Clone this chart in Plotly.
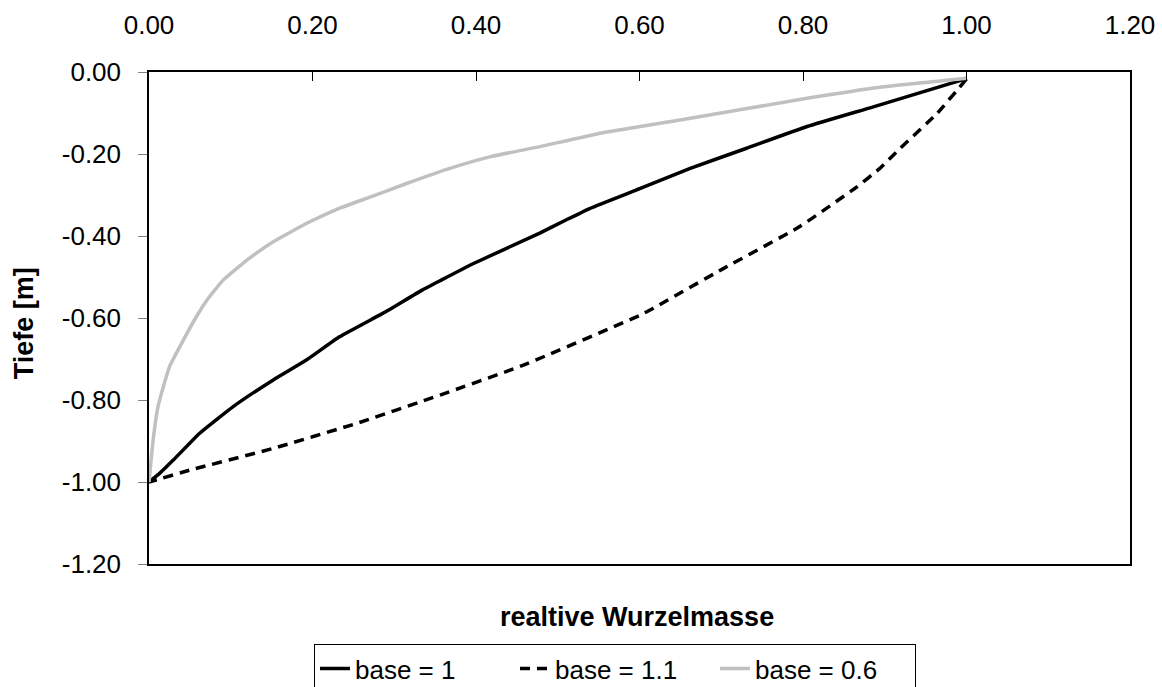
import plotly.graph_objects as go

# base = 1 (solid black)
depth_b1 = [-0.016, -0.085, -0.133, -0.186, -0.235, -0.284, -0.333, -0.361, -0.393, -0.467, -0.507,
            -0.532, -0.576, -0.593, -0.646, -0.702, -0.751, -0.816, -0.881, -0.946, -0.979, -1.0]
mass_b1 = [1.0, 0.886, 0.805, 0.731, 0.662, 0.601, 0.539, 0.510, 0.478, 0.397, 0.358,
           0.334, 0.297, 0.282, 0.233, 0.193, 0.152, 0.103, 0.062, 0.030, 0.013, 0.0]

# base = 1.1 (dashed black)
depth_b11 = [-0.017, -0.101, -0.186, -0.235, -0.280, -0.377, -0.479, -0.576, -0.593, -0.715,
             -0.788, -0.857, -0.918, -0.971, -1.0]
mass_b11 = [1.0, 0.964, 0.919, 0.894, 0.866, 0.796, 0.703, 0.617, 0.601, 0.458,
            0.356, 0.254, 0.152, 0.050, 0.0]

# base = 0.6 (grey)
depth_b06 = [-0.015, -0.037, -0.064, -0.113, -0.151, -0.182, -0.207, -0.235, -0.272, -0.304,
             -0.333, -0.369, -0.414, -0.454, -0.507, -0.556, -0.600, -0.654, -0.719, -0.816,
             -0.898, -1.0]
mass_b06 = [1.0, 0.894, 0.805, 0.662, 0.548, 0.478, 0.417, 0.368, 0.315, 0.272,
            0.232, 0.193, 0.152, 0.123, 0.091, 0.071, 0.057, 0.042, 0.025, 0.011,
            0.005, 0.0]

x_ticks = [0.0, 0.2, 0.4, 0.6, 0.8, 1.0, 1.2]
x_ticktext = ["0.00", "0.20", "0.40", "0.60", "0.80", "1.00", "1.20"]
y_ticks = [0.0, -0.2, -0.4, -0.6, -0.8, -1.0, -1.2]
y_ticktext = ["0.00", "-0.20", "-0.40", "-0.60", "-0.80", "-1.00", "-1.20"]

FONT = "Liberation Sans, Arial, sans-serif"

fig = go.Figure()
fig.add_trace(go.Scatter(x=mass_b1, y=depth_b1, mode="lines", name="base = 1",
                         line=dict(color="black", width=3.5, shape="spline", smoothing=0.4)))
fig.add_trace(go.Scatter(x=mass_b11, y=depth_b11, mode="lines", name="base = 1.1",
                         line=dict(color="black", width=3.5, dash="10px,7px", shape="spline", smoothing=0.4)))
fig.add_trace(go.Scatter(x=mass_b06, y=depth_b06, mode="lines", name="base = 0.6",
                         line=dict(color="#C0C0C0", width=3.5, shape="spline", smoothing=0.4)))

fig.update_layout(
    width=1162, height=687,
    margin=dict(l=149, r=32, t=72, b=123, autoexpand=False),
    paper_bgcolor="white", plot_bgcolor="white",
    font=dict(family=FONT, size=26, color="black"),
    showlegend=True,
    legend=dict(orientation="h", x=0.475, xanchor="center", y=-0.163, yanchor="top",
                bordercolor="black", borderwidth=1, bgcolor="white",
                font=dict(size=26), itemwidth=30, entrywidth=155, entrywidthmode="pixels",
                tracegroupgap=0),
    xaxis=dict(range=[0, 1.2], side="top", tickvals=x_ticks, ticktext=x_ticktext,
               ticks="inside", ticklen=9, tickcolor="black", showgrid=False, zeroline=False,
               showline=True, linecolor="black", linewidth=1.5, mirror=True,
               ticklabelstandoff=26, tickfont=dict(size=26)),
    yaxis=dict(range=[-1.2, 0], tickvals=y_ticks, ticktext=y_ticktext,
               ticks="outside", ticklen=9, tickcolor="#808080", showgrid=False, zeroline=False,
               showline=True, linecolor="black", linewidth=1.5, mirror=True,
               ticklabelstandoff=12, tickfont=dict(size=26)),
    annotations=[
        dict(text="<b>realtive Wurzelmasse</b>", xref="paper", yref="paper",
             x=0.497, y=-0.108, xanchor="center", yanchor="middle", showarrow=False,
             font=dict(size=27)),
        dict(text="<b>Tiefe [m]</b>", xref="paper", yref="paper",
             x=-0.128, y=0.49, xanchor="center", yanchor="middle", textangle=-90,
             showarrow=False, font=dict(size=27)),
    ],
)

fig.write_html("out.html")
